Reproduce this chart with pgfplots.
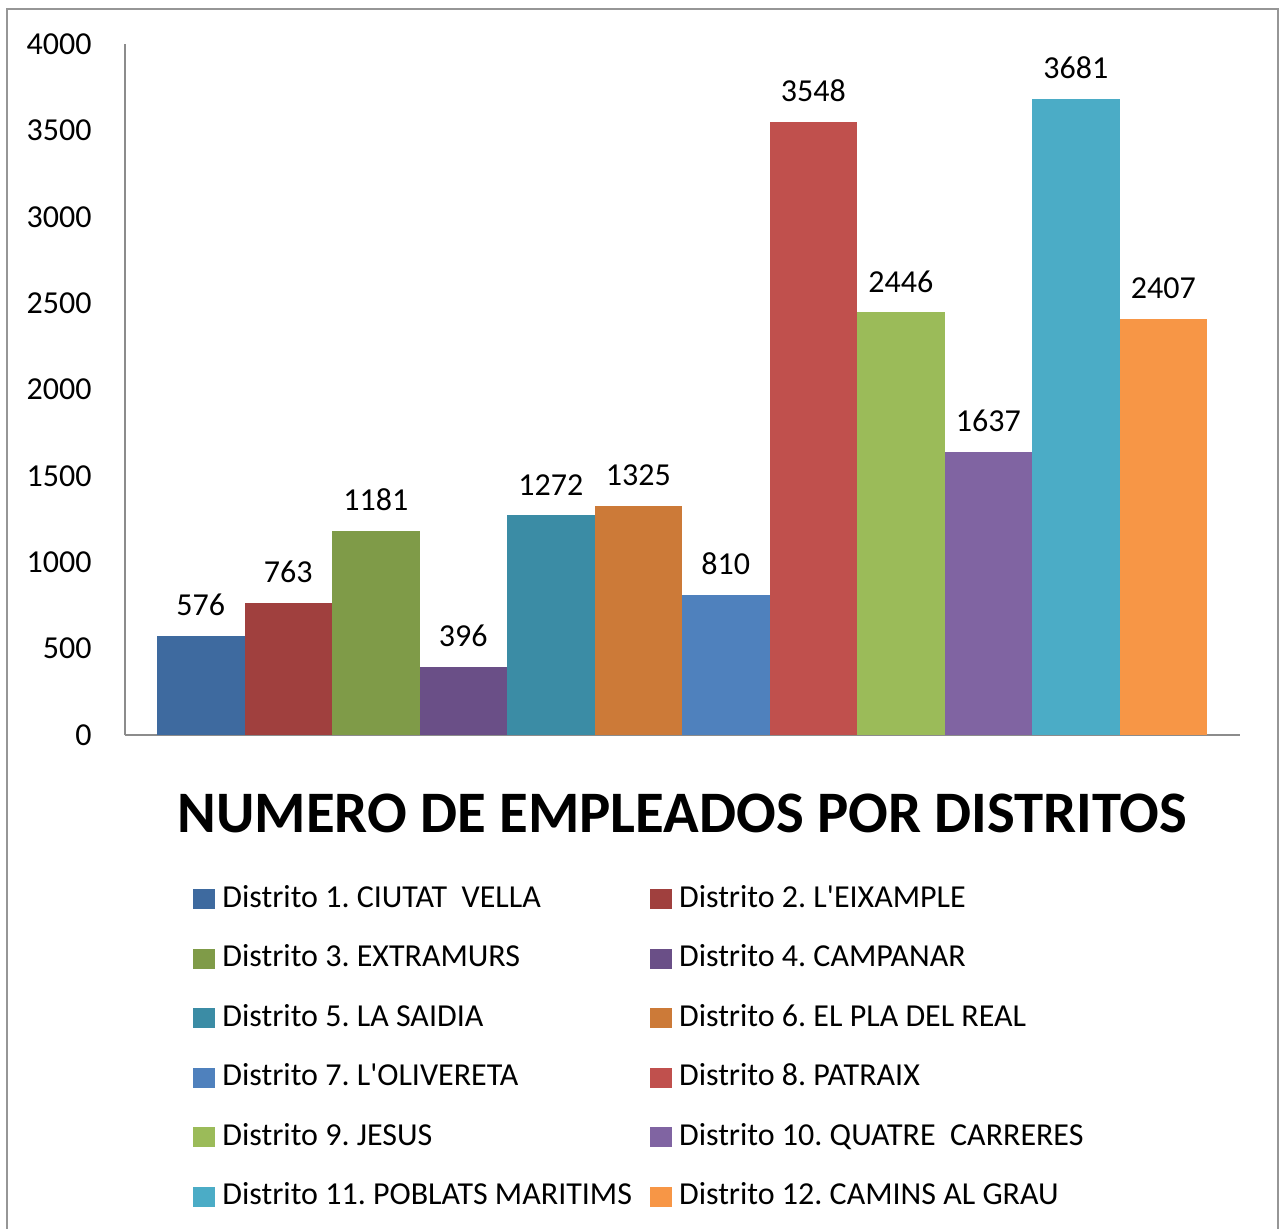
\documentclass[border=0pt]{standalone}
\usepackage{fontspec}
\setmainfont{Carlito}[Ligatures=TeXOff]
\usepackage{pgfplots}
\pgfplotsset{compat=1.18}
\definecolor{ca}{HTML}{3E6A9F}
\definecolor{cb}{HTML}{A0403E}
\definecolor{cc}{HTML}{7F9B48}
\definecolor{cd}{HTML}{6A4F87}
\definecolor{ce}{HTML}{3B8CA5}
\definecolor{cf}{HTML}{CC7A38}
\definecolor{cg}{HTML}{4F81BD}
\definecolor{ch}{HTML}{C0504D}
\definecolor{ci}{HTML}{9BBB59}
\definecolor{cj}{HTML}{8064A2}
\definecolor{ck}{HTML}{4BACC6}
\definecolor{cl}{HTML}{F79646}
\definecolor{axgray}{HTML}{8C8C8C}
\definecolor{frgray}{HTML}{969696}
\newcommand{\lbl}{\fontsize{16}{19}\selectfont}
\frenchspacing
\begin{document}
\frenchspacing
\begin{tikzpicture}
\path[use as bounding box] (0,0) rectangle (641.5pt,-614.5pt);
\draw[frgray, line width=1pt] (3.5pt,-614.5pt) -- (3.5pt,-4.5pt) -- (639pt,-4.5pt) -- (639pt,-614.5pt);
\begin{axis}[
  at={(62.5pt,-367.5pt)}, anchor=south west,
  scale only axis, width=557.5pt, height=345.5pt,
  xmin=-0.866, xmax=11.877, ymin=0, ymax=4000,
  ytick={0,500,...,4000}, xtick=\empty,
  axis x line*=bottom, axis y line*=left,
  axis line style={draw=axgray, line width=1pt, -},
  tick style={draw=none},
  /pgf/number format/1000 sep={},
  /pgf/number format/assume math mode=true,
  yticklabel style={font=\lbl, anchor=east, inner sep=0pt, xshift=-16.5pt},
  nodes near coords,
  every node near coord/.append style={font=\lbl, text=black, yshift=6.5pt},
  title={\fontsize{29.4}{34}\selectfont\bfseries NUMERO DE EMPLEADOS POR DISTRITOS},
  title style={at={(0.5,0)}, anchor=base, yshift=-54.5pt, inner sep=0pt},
  legend columns=2,
  legend image code/.code={\fill[#1] (0pt,-5pt) rectangle (11pt,5pt);},
  legend style={at={(0.061,-0.2142)}, anchor=north west, draw=none, fill=none,
    inner sep=0pt, font=\lbl, row sep=13.75pt,
    nodes={inner sep=0pt, text height=12pt, text depth=4pt},
    cells={anchor=west},
    /tikz/every odd column/.append style={column sep=3.5pt},
    /tikz/every even column/.append style={column sep=9pt}},
]
\addplot[ybar, bar width=1, bar shift=0pt, draw=none, fill=ca] coordinates {(0,576)};
\addlegendentry{Distrito 1. CIUTAT\ \ VELLA}
\addplot[ybar, bar width=1, bar shift=0pt, draw=none, fill=cb] coordinates {(1,763)};
\addlegendentry{Distrito 2. L'EIXAMPLE}
\addplot[ybar, bar width=1, bar shift=0pt, draw=none, fill=cc] coordinates {(2,1181)};
\addlegendentry{Distrito 3. EXTRAMURS}
\addplot[ybar, bar width=1, bar shift=0pt, draw=none, fill=cd] coordinates {(3,396)};
\addlegendentry{Distrito 4. CAMPANAR}
\addplot[ybar, bar width=1, bar shift=0pt, draw=none, fill=ce] coordinates {(4,1272)};
\addlegendentry{Distrito 5. LA SAIDIA}
\addplot[ybar, bar width=1, bar shift=0pt, draw=none, fill=cf] coordinates {(5,1325)};
\addlegendentry{Distrito 6. EL PLA DEL REAL}
\addplot[ybar, bar width=1, bar shift=0pt, draw=none, fill=cg] coordinates {(6,810)};
\addlegendentry{Distrito 7. L'OLIVERETA}
\addplot[ybar, bar width=1, bar shift=0pt, draw=none, fill=ch] coordinates {(7,3548)};
\addlegendentry{Distrito 8. PATRAIX}
\addplot[ybar, bar width=1, bar shift=0pt, draw=none, fill=ci] coordinates {(8,2446)};
\addlegendentry{Distrito 9. JESUS}
\addplot[ybar, bar width=1, bar shift=0pt, draw=none, fill=cj] coordinates {(9,1637)};
\addlegendentry{Distrito 10. QUATRE\ \ CARRERES}
\addplot[ybar, bar width=1, bar shift=0pt, draw=none, fill=ck] coordinates {(10,3681)};
\addlegendentry{Distrito 11. POBLATS MARITIMS}
\addplot[ybar, bar width=1, bar shift=0pt, draw=none, fill=cl] coordinates {(11,2407)};
\addlegendentry{Distrito 12. CAMINS AL GRAU}
\end{axis}
\end{tikzpicture}
\end{document}
